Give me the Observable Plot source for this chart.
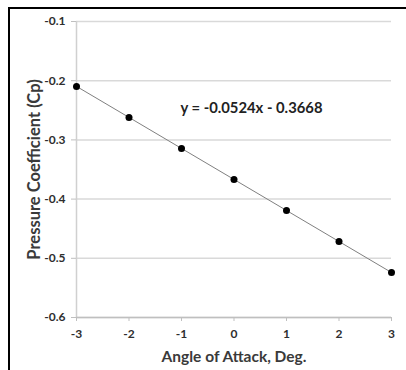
<!DOCTYPE html>
<html>
<head>
<meta charset="utf-8">
<script src="https://cdn.jsdelivr.net/npm/d3@7"></script>
<script src="https://cdn.jsdelivr.net/npm/@observablehq/plot@0.6"></script>
<style>
  html, body { margin: 0; padding: 0; background: #fff; }
  #frame { position: absolute; left: 8px; top: 7px; border-left: 2px solid #000; border-top: 2px solid #000; }
  svg { display: block; }
</style>
</head>
<body>
<div id="frame"></div>
<script>
const angles = [-3, -2, -1, 0, 1, 2, 3];
const cp = [-0.2096, -0.2620, -0.3144, -0.3668, -0.4192, -0.4716, -0.5240];
const xTicks = [-3, -2, -1, 0, 1, 2, 3];
const yTicks = [-0.6, -0.5, -0.4, -0.3, -0.2, -0.1];
const equationText = "y = -0.0524x - 0.3668";
const equationPos = {x: -1.02, y: -0.247};

const data = angles.map((a, i) => ({angle: a, cp: cp[i]}));
const font = "Lato, 'Open Sans', sans-serif";
const labelColor = "#3a3a3a";
const tickColor = "#2e2e2e";

const chart = Plot.plot({
  width: 396,
  height: 361,
  marginLeft: 66,
  marginRight: 15,
  marginTop: 12,
  marginBottom: 53,
  style: {fontFamily: font, background: "#fff"},
  x: {domain: [-3, 3]},
  y: {domain: [-0.6, -0.1]},
  marks: [
    Plot.gridY(yTicks, {stroke: "#d9d9d9", strokeOpacity: 1, strokeWidth: 1.5}),
    Plot.ruleX([-3], {stroke: "#d0d0d0", strokeWidth: 1.5}),
    Plot.ruleY([-0.6], {stroke: "#bfbfbf", strokeWidth: 1.5}),
    Plot.axisY(yTicks, {
      tickSize: 5, tickPadding: 6, stroke: "#bfbfbf",
      tickFormat: d => d.toFixed(1),
      fontSize: 12, fontWeight: "bold", fill: tickColor,
      label: "Pressure Coefficient (Cp)", labelAnchor: "center", labelArrow: "none",
      labelOffset: 48
    }),
    Plot.axisX(xTicks, {
      tickSize: 4, tickPadding: 8, stroke: "#bfbfbf",
      tickFormat: d => String(d),
      fontSize: 12, fontWeight: "bold", fill: tickColor,
      label: "Angle of Attack, Deg.", labelAnchor: "center", labelArrow: "none",
      labelOffset: 44
    }),
    Plot.linearRegressionY(data, {x: "angle", y: "cp", ci: 0, stroke: "#808080", strokeWidth: 1}),
    Plot.dot(data, {x: "angle", y: "cp", r: 3.5, fill: "#000", stroke: "none"}),
    Plot.text([equationText], {
      x: () => equationPos.x, y: () => equationPos.y, text: d => d,
      textAnchor: "start", fontSize: 14.8, fontWeight: "bold", fill: "#222"
    })
  ]
});

chart.querySelectorAll("[aria-label='y-axis label'], [aria-label='x-axis label']").forEach(g => {
  const size = g.getAttribute("aria-label") === "y-axis label" ? "16.5" : "15.5";
  g.setAttribute("font-size", size);
  g.setAttribute("font-weight", "bold");
  g.setAttribute("fill", labelColor);
  g.querySelectorAll("text").forEach(t => {
    t.setAttribute("font-size", size);
    t.setAttribute("font-weight", "bold");
    t.setAttribute("fill", labelColor);
  });
});
document.getElementById("frame").appendChild(chart);
</script>
</body>
</html>
